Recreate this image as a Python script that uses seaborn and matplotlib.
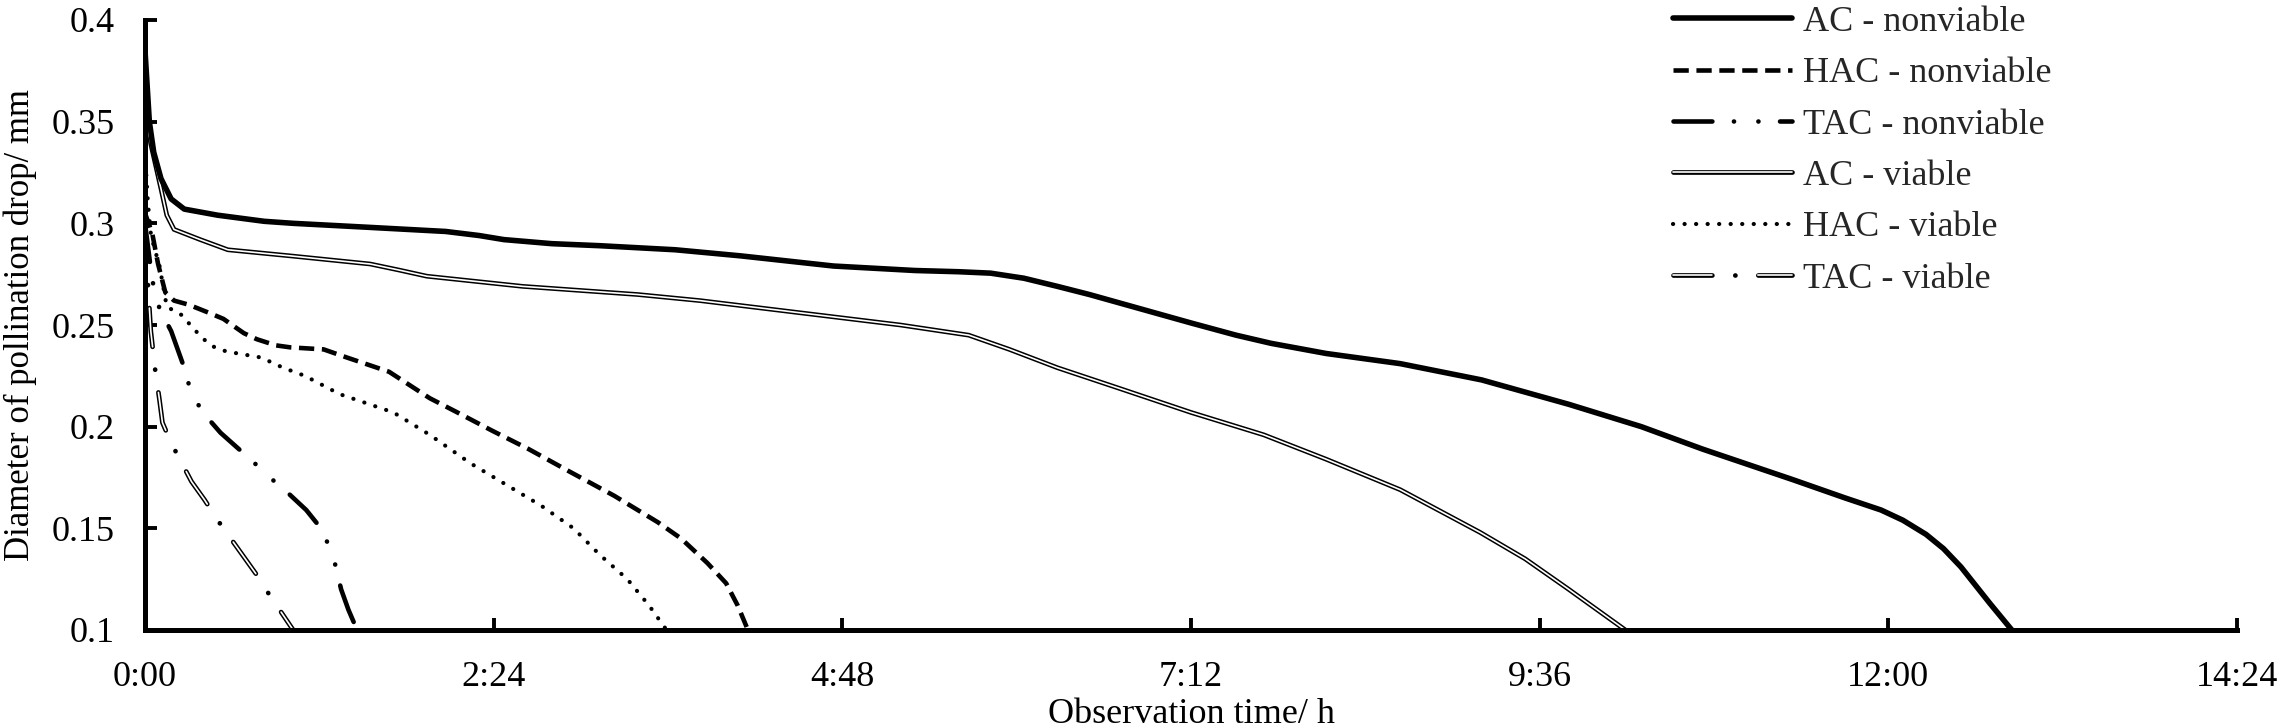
import pandas as pd
import matplotlib
matplotlib.use("Agg")
import matplotlib.pyplot as plt
from matplotlib.legend_handler import HandlerTuple
import seaborn as sns

# values: time in hours, drop diameter in mm
ac_nonviable_t = [0, 0.03, 0.06, 0.11, 0.18, 0.27, 0.5, 0.82, 1.02, 1.55, 2.07, 2.3, 2.47, 2.8, 3.13,
                  3.65, 4.1, 4.74, 5.3, 5.6, 5.82, 6.05, 6.28, 6.5, 6.9, 7.2, 7.51, 7.75, 8.13, 8.64,
                  9.2, 9.8, 10.3, 10.72, 11.34, 11.7, 11.95, 12.1, 12.26, 12.38, 12.5, 12.7, 12.85]
ac_nonviable_d = [0.385, 0.35, 0.335, 0.322, 0.312, 0.307, 0.304, 0.301, 0.300, 0.298, 0.296, 0.294,
                  0.292, 0.290, 0.289, 0.287, 0.284, 0.279, 0.2768, 0.2762, 0.2755, 0.273, 0.269,
                  0.265, 0.257, 0.251, 0.245, 0.241, 0.236, 0.231, 0.223, 0.211, 0.200, 0.189, 0.174,
                  0.165, 0.159, 0.154, 0.147, 0.14, 0.131, 0.113, 0.1]

ac_viable_t = [0, 0.04, 0.11, 0.15, 0.2, 0.38, 0.57, 1.0, 1.55, 1.75, 1.94, 2.6, 3.39, 3.82, 4.74,
               5.2, 5.67, 5.95, 6.28, 6.7, 7.2, 7.7, 8.13, 8.64, 9.19, 9.5, 9.8, 10.19]
ac_viable_d = [0.355, 0.339, 0.317, 0.304, 0.297, 0.292, 0.287, 0.284, 0.280, 0.277, 0.274, 0.269,
               0.265, 0.262, 0.254, 0.250, 0.245, 0.238, 0.229, 0.219, 0.207, 0.196, 0.184, 0.169,
               0.148, 0.135, 0.12, 0.1]

hac_nonviable_t = [0, 0.05, 0.09, 0.14, 0.2, 0.3, 0.44, 0.54, 0.68, 0.77, 0.9, 1.0, 1.23, 1.39, 1.68,
                   1.96, 2.15, 2.39, 2.64, 2.92, 3.23, 3.53, 3.69, 3.87, 4.0, 4.08, 4.15]
hac_nonviable_d = [0.305, 0.295, 0.28, 0.266, 0.262, 0.26, 0.256, 0.253, 0.246, 0.243, 0.24, 0.239,
                   0.238, 0.234, 0.227, 0.214, 0.207, 0.198, 0.189, 0.178, 0.166, 0.153, 0.145,
                   0.133, 0.123, 0.112, 0.1]

hac_viable_t = [0, 0.02, 0.04, 0.06, 0.1, 0.15, 0.25, 0.3, 0.35, 0.42, 0.48, 0.56, 0.64, 0.72, 0.8,
                0.95, 1.1, 1.34, 1.71, 1.96, 2.24, 2.45, 2.73, 2.95, 3.13, 3.32, 3.47, 3.59]
hac_viable_d = [0.335, 0.31, 0.295, 0.289, 0.279, 0.259, 0.255, 0.251, 0.247, 0.242, 0.239, 0.237,
                0.236, 0.235, 0.234, 0.229, 0.225, 0.216, 0.207, 0.196, 0.182, 0.173, 0.161, 0.150,
                0.137, 0.125, 0.112, 0.1]

tac_nonviable_t = [0, 0.05, 0.1, 0.18, 0.27, 0.32, 0.41, 0.52, 0.74, 0.86, 0.99, 1.11, 1.2, 1.27,
                   1.31, 1.35, 1.4, 1.46]
tac_nonviable_d = [0.30, 0.272, 0.258, 0.247, 0.229, 0.216, 0.206, 0.197, 0.183, 0.175, 0.167,
                   0.159, 0.151, 0.141, 0.132, 0.12, 0.11, 0.1]

tac_viable_t = [0, 0.02, 0.04, 0.07, 0.1, 0.12, 0.18, 0.32, 0.41, 0.5, 0.68, 0.77, 0.85, 1.02]
tac_viable_d = [0.30, 0.27, 0.247, 0.228, 0.213, 0.202, 0.192, 0.173, 0.164, 0.154, 0.136, 0.127,
                0.118, 0.1]

legend_labels = ["AC - nonviable", "HAC - nonviable", "TAC - nonviable",
                 "AC - viable", "HAC - viable", "TAC - viable"]
x_ticks = [0, 2.4, 4.8, 7.2, 9.6, 12.0, 14.4]
x_tick_labels = ["0:00", "2:24", "4:48", "7:12", "9:36", "12:00", "14:24"]
y_ticks = [0.1, 0.15, 0.2, 0.25, 0.3, 0.35, 0.4]
y_tick_labels = ["0.1", "0.15", "0.2", "0.25", "0.3", "0.35", "0.4"]

sns.set_theme(style="ticks")
plt.rcParams["font.family"] = ["Liberation Serif", "DejaVu Serif"]
plt.rcParams["lines.scale_dashes"] = False

fig = plt.figure(figsize=(22.82, 7.28), dpi=100)
ax = fig.add_axes([145 / 2282, 98 / 728, 2092 / 2282, 610 / 728])


def draw(t, d, **kws):
    df = pd.DataFrame({"time": t, "diameter": d})
    sns.lineplot(data=df, x="time", y="diameter", ax=ax, estimator=None, sort=False,
                 color=kws.pop("color", "black"), **kws)
    return ax.lines[-1]


# viable series (double lines = black line with a thin white core)
acv_b = draw(ac_viable_t, ac_viable_d, lw=3.4)
acv_w = draw(ac_viable_t, ac_viable_d, lw=1.2, color="white")
hacv = draw(hac_viable_t, hac_viable_d, lw=3.0, linestyle=(0, (0.1, 8.2)), dash_capstyle="round")
tacv_b = draw(tac_viable_t, tac_viable_d, lw=3.4, linestyle=(0, (28, 16.5, 0.1, 16.5)),
              dash_capstyle="round")
tacv_w = draw(tac_viable_t, tac_viable_d, lw=1.2, color="white", linestyle=(0, (28, 33.1)),
              dash_capstyle="round")

# nonviable series
acn = draw(ac_nonviable_t, ac_nonviable_d, lw=4.0, solid_joinstyle="round")
hacn = draw(hac_nonviable_t, hac_nonviable_d, lw=3.3, linestyle=(0, (11, 5.5)))
tacn = draw(tac_nonviable_t, tac_nonviable_d, lw=3.3,
            linestyle=(0, (28, 15.5, 0.1, 17.5, 0.1, 15.5)), dash_capstyle="round")

ax.set_xlim(0, 14.4)
ax.set_ylim(0.1, 0.4)
ax.set_xticks(x_ticks)
ax.set_xticklabels(x_tick_labels)
ax.set_yticks(y_ticks)
ax.set_yticklabels(y_tick_labels)

for side in ["top", "right"]:
    ax.spines[side].set_visible(False)
for side in ["left", "bottom"]:
    ax.spines[side].set_linewidth(3.6)
    ax.spines[side].set_color("black")
ax.tick_params(axis="both", direction="in", length=8.5, width=2.8, pad=22,
               labelsize=26, colors="black", bottom=True, left=True, top=False, right=False)

ax.set_xlabel("Observation time/ h", fontsize=26, labelpad=3, color="black")
ax.set_ylabel("Diameter of pollination drop/ mm", fontsize=25, labelpad=10, color="black")

handles = [acn, hacn, tacn, (acv_b, acv_w), hacv, (tacv_b, tacv_w)]
ax.legend(handles, legend_labels, handler_map={tuple: HandlerTuple(ndivide=1)},
          loc="upper left", bbox_to_anchor=(1673 / 2282, 0.992), bbox_transform=fig.transFigure,
          frameon=False, fontsize=26, handlelength=3.3, handletextpad=0.3,
          labelspacing=0.5, borderpad=0, borderaxespad=0)

fig.savefig("out.png", dpi=100)
